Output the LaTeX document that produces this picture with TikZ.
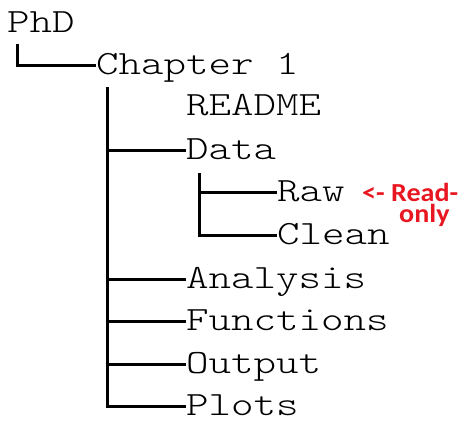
\documentclass[tikz,border=0pt]{standalone}
\usepackage{fontspec}
\setmonofont[FakeStretch=1.26]{lmmonolt10-regular.otf}
\newfontfamily\redfont[FakeStretch=1.08]{Carlito}
\definecolor{noteRed}{RGB}{232,22,32}
\begin{document}
\begin{tikzpicture}[x=1pt,y=-1pt,
  item/.style={anchor=base west,inner sep=0pt,font=\fontsize{34}{34}\selectfont\ttfamily,text height=18pt,text depth=0pt},
  conn/.style={line width=3pt,line cap=butt},
  note/.style={anchor=base west,inner sep=0pt,align=left,font=\fontsize{26}{21}\selectfont\redfont\bfseries,text=noteRed}]
\useasboundingbox (0,0) rectangle (469,435);
\node[item] (phd) at (7,33) {PhD};
\node[item] (ch) at (96,75) {Chapter 1};
\node[item] (readme) at (186,116) {README};
\node[item] (data) at (186,160) {Data};
\node[item] (raw) at (277,202) {Raw};
\node[item] (clean) at (277,245) {Clean};
\node[item] (analysis) at (186,289) {Analysis};
\node[item] (functions) at (186,331) {Functions};
\node[item] (output) at (186,374) {Output};
\node[item] (plots) at (186,416) {Plots};
\node[note] (n1) at (362,223) {<- Read-\\\hspace*{37pt}only};
\coordinate (a) at (17,44);
\coordinate (b) at (107,87);
\coordinate (c) at (199,173);
\draw[conn] (a) |- (ch.west);
\draw[conn] (b) -- (b |- plots.west) -- (plots.west);
\draw[conn] (b |- data.west) -- (data.west);
\draw[conn] (b |- analysis.west) -- (analysis.west);
\draw[conn] (b |- functions.west) -- (functions.west);
\draw[conn] (b |- output.west) -- (output.west);
\draw[conn] (c) -- (c |- clean.west) -- (clean.west);
\draw[conn] (c |- raw.west) -- (raw.west);
\end{tikzpicture}
\end{document}
